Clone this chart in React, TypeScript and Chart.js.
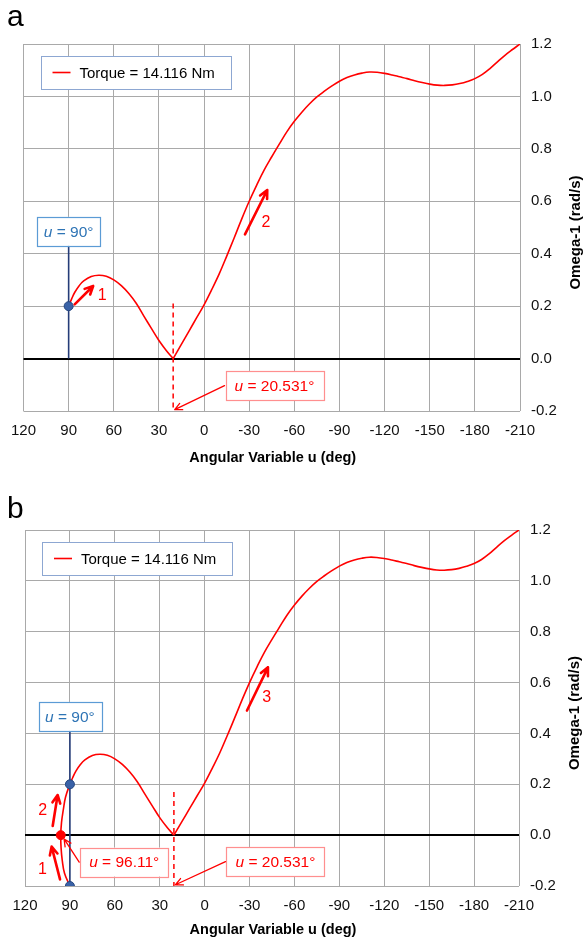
import React, { useEffect, useRef } from "react";
import { Chart, registerables } from "chart.js";

Chart.register(...registerables);

const FONT = '"Liberation Sans", Arial, sans-serif';
const W = 586;
const H = 472;
const GRID = "#A9A9A9";
const RED = "#FF0000";

// ---- axes ----
const uTicks = [120, 90, 60, 30, 0, -30, -60, -90, -120, -150, -180, -210];
const omegaTicks = [-0.2, 0, 0.2, 0.4, 0.6, 0.8, 1.0, 1.2];

// ---- curve: hump from u = 90 down to the cusp ----
const uHump = [90, 88, 86, 83, 80, 75, 70, 65, 60, 55, 50, 45, 40, 35, 30, 25, 20.531];
const omegaHump = [0.2, 0.228, 0.252, 0.278, 0.296, 0.313, 0.318, 0.314, 0.3, 0.278, 0.248, 0.21, 0.162, 0.115, 0.069, 0.03, 0];

// ---- curve: rising branch after the cusp ----
const uRise = [20.531, 15, 10, 5, 0, -5, -10, -15, -20, -25, -30, -35, -40, -45, -50, -55, -60, -65, -70, -75, -80, -85, -90, -95, -100, -105, -110, -115, -120, -125, -130, -135, -140, -145, -150, -155, -160, -165, -170, -175, -180, -185, -190, -195, -200, -205, -210];
const omegaRise = [0, 0.055, 0.105, 0.155, 0.205, 0.262, 0.322, 0.39, 0.46, 0.532, 0.6, 0.662, 0.72, 0.77, 0.818, 0.865, 0.905, 0.94, 0.971, 0.998, 1.02, 1.04, 1.058, 1.072, 1.082, 1.089, 1.093, 1.092, 1.088, 1.082, 1.075, 1.068, 1.06, 1.053, 1.047, 1.043, 1.042, 1.044, 1.049, 1.057, 1.068, 1.084, 1.106, 1.132, 1.157, 1.179, 1.2];

// ---- curve: loop below u = 90 (panel b only) ----
const uLoop = [90, 93.6, 95.1, 95.9, 96.11, 95.6, 94.4, 92.9];
const omegaLoop = [-0.2, -0.15, -0.1, -0.05, 0, 0.05, 0.1, 0.15];

const startU = 90;
const cuspU = 20.531;
const turnU = 96.11;
const legendLabel = "Torque = 14.116 Nm";
const xTitle = "Angular Variable u (deg)";
const yTitle = "Omega-1 (rad/s)";

const pts = (us: number[], ws: number[]) => us.map((u, i) => ({ x: u, y: ws[i] }));

type Arrow = { from: [number, number]; to: [number, number]; label: string; at: [number, number] };
type Box = { text: string; u: number; w: number; tip?: [number, number] };

type PanelCfg = {
  letter: string;
  letterBaseline: number;
  padLeft: number;
  padTop: number;
  yAxisW: number;
  xAxisH: number;
  withLoop: boolean;
  blueLine: [number, number];
  dashTop: number;
  arrows: Arrow[];
  boxes: Box[];
};

const panelA: PanelCfg = {
  letter: "a",
  letterBaseline: 26,
  padLeft: 21,
  padTop: 44,
  yAxisW: 66,
  xAxisH: 61,
  withLoop: false,
  blueLine: [0, 0.43],
  dashTop: 0.21,
  arrows: [
    { from: [86.0, 0.207], to: [73.7, 0.277], label: "1", at: [67.7, 0.239] },
    { from: [-27.2, 0.474], to: [-42, 0.643], label: "2", at: [-41.1, 0.518] },
  ],
  boxes: [{ text: "20.531°", u: -46.8, w: -0.103, tip: [19.5, -0.195] }],
};

const panelB: PanelCfg = {
  letter: "b",
  letterBaseline: 46,
  padLeft: 25,
  padTop: 58,
  yAxisW: 67,
  xAxisH: 58,
  withLoop: true,
  blueLine: [-0.2, 0.41],
  dashTop: 0.17,
  arrows: [
    { from: [96.6, -0.174], to: [102.2, -0.045], label: "1", at: [108.4, -0.134] },
    { from: [101.5, 0.036], to: [98.2, 0.158], label: "2", at: [108.2, 0.096] },
    { from: [-28.3, 0.49], to: [-42.3, 0.66], label: "3", at: [-41.5, 0.54] },
  ],
  boxes: [
    { text: "96.11°", u: 53.7, w: -0.106, tip: [93.9, -0.015] },
    { text: "20.531°", u: -47.3, w: -0.104, tip: [19.5, -0.195] },
  ],
};

function drawArrow(ctx: CanvasRenderingContext2D, x1: number, y1: number, x2: number, y2: number, lw: number, head: number) {
  const a = Math.atan2(y2 - y1, x2 - x1);
  ctx.save();
  ctx.strokeStyle = RED;
  ctx.lineWidth = lw;
  ctx.lineCap = "round";
  ctx.lineJoin = "round";
  ctx.beginPath();
  ctx.moveTo(x1, y1);
  ctx.lineTo(x2, y2);
  ctx.moveTo(x2 - head * Math.cos(a - 0.45), y2 - head * Math.sin(a - 0.45));
  ctx.lineTo(x2, y2);
  ctx.lineTo(x2 - head * Math.cos(a + 0.45), y2 - head * Math.sin(a + 0.45));
  ctx.stroke();
  ctx.restore();
}

function drawULabel(ctx: CanvasRenderingContext2D, cx: number, cy: number, rest: string, color: string, border: string) {
  const size = 15.5;
  ctx.save();
  ctx.font = `italic ${size}px ${FONT}`;
  const wu = ctx.measureText("u").width;
  ctx.font = `${size}px ${FONT}`;
  const tail = " = " + rest;
  const wr = ctx.measureText(tail).width;
  const tw = wu + wr;
  const bw = tw + (rest.length > 4 ? 18 : 13);
  const bh = 29;
  ctx.fillStyle = "#FFFFFF";
  ctx.fillRect(cx - bw / 2, cy - bh / 2, bw, bh);
  ctx.strokeStyle = border;
  ctx.lineWidth = 1.2;
  ctx.strokeRect(Math.round(cx - bw / 2) + 0.5, Math.round(cy - bh / 2) + 0.5, Math.round(bw), bh);
  ctx.fillStyle = color;
  ctx.textBaseline = "middle";
  ctx.textAlign = "left";
  const x0 = cx - tw / 2;
  ctx.font = `italic ${size}px ${FONT}`;
  ctx.fillText("u", x0, cy + 1);
  ctx.font = `${size}px ${FONT}`;
  ctx.fillText(tail, x0 + wu, cy + 1);
  ctx.restore();
  return { left: cx - bw / 2, right: cx + bw / 2, top: cy - bh / 2, bottom: cy + bh / 2 };
}

function makePlugin(cfg: PanelCfg) {
  return {
    id: "annot_" + cfg.letter,
    afterDraw(chart: any) {
      const ctx: CanvasRenderingContext2D = chart.ctx;
      const ca = chart.chartArea;
      const X = (u: number) => chart.scales.x.getPixelForValue(u);
      const Y = (w: number) => chart.scales.y.getPixelForValue(w);
      ctx.save();

      // panel letter
      ctx.fillStyle = "#000";
      ctx.font = `30px ${FONT}`;
      ctx.textBaseline = "alphabetic";
      ctx.textAlign = "left";
      ctx.fillText(cfg.letter, 7, cfg.letterBaseline);

      // legend
      const lx = ca.left + 17;
      const ly = ca.top + 12;
      ctx.fillStyle = "#FFF";
      ctx.fillRect(lx, ly, 190, 33);
      ctx.strokeStyle = "#8DA7D2";
      ctx.lineWidth = 1;
      ctx.strokeRect(Math.round(lx) + 0.5, Math.round(ly) + 0.5, 190, 33);
      ctx.strokeStyle = RED;
      ctx.lineWidth = 1.6;
      ctx.beginPath();
      ctx.moveTo(lx + 12, ly + 16.5);
      ctx.lineTo(lx + 30, ly + 16.5);
      ctx.stroke();
      ctx.fillStyle = "#000";
      ctx.font = `15px ${FONT}`;
      ctx.textBaseline = "middle";
      ctx.fillText(legendLabel, lx + 39, ly + 17.5);

      // dashed line at cusp
      ctx.strokeStyle = RED;
      ctx.lineWidth = 1.5;
      ctx.setLineDash([5, 4]);
      ctx.beginPath();
      ctx.moveTo(X(cuspU), Y(cfg.dashTop));
      ctx.lineTo(X(cuspU), Y(-0.2));
      ctx.stroke();
      ctx.setLineDash([]);

      // blue label u = 90
      drawULabel(ctx, X(startU), Y(cfg.blueLine[1]) - 14.5, "90°", "#2E74B5", "#5B9BD5");

      // red labels
      for (const b of cfg.boxes) {
        const r = drawULabel(ctx, X(b.u), Y(b.w), b.text, RED, "#FF8F8F");
        if (b.tip) drawArrow(ctx, r.left - 1, (r.top + r.bottom) / 2, X(b.tip[0]), Y(b.tip[1]), 1.3, 8);
      }

      // direction arrows
      for (const a of cfg.arrows) {
        drawArrow(ctx, X(a.from[0]), Y(a.from[1]), X(a.to[0]), Y(a.to[1]), 2.6, 9);
        ctx.fillStyle = RED;
        ctx.font = `16px ${FONT}`;
        ctx.textAlign = "center";
        ctx.textBaseline = "middle";
        ctx.fillText(a.label, X(a.at[0]), Y(a.at[1]));
      }

      // axis titles
      ctx.fillStyle = "#000";
      ctx.font = `bold 14.5px ${FONT}`;
      ctx.textAlign = "center";
      ctx.textBaseline = "middle";
      ctx.fillText(xTitle, (ca.left + ca.right) / 2 + 1, 458);
      ctx.save();
      ctx.translate(ca.right + 56, (ca.top + ca.bottom) / 2 + 5);
      ctx.rotate(-Math.PI / 2);
      ctx.font = `bold 15px ${FONT}`;
      ctx.fillText(yTitle, 0, 0);
      ctx.restore();

      ctx.restore();
    },
  };
}

function buildConfig(cfg: PanelCfg): any {
  const hump = pts(uHump, omegaHump);
  const rise = pts(uRise, omegaRise);
  const loop = pts(uLoop, omegaLoop);
  const firstBranch = cfg.withLoop ? loop.concat(hump) : hump;
  const blueDots = cfg.withLoop ? [hump[0], loop[0]] : [hump[0]];
  const curveStyle = {
    type: "line",
    borderColor: RED,
    borderWidth: 1.6,
    pointRadius: 0,
    tension: 0.4,
    fill: false,
    order: 2,
  };
  const datasets: any[] = [
    { ...curveStyle, data: firstBranch },
    { ...curveStyle, data: rise },
    {
      type: "line",
      data: [
        { x: startU, y: cfg.blueLine[0] },
        { x: startU, y: cfg.blueLine[1] },
      ],
      borderColor: "#253C78",
      borderWidth: 1.6,
      pointRadius: 0,
      order: 3,
    },
    {
      type: "scatter",
      data: blueDots,
      pointRadius: 4.5,
      backgroundColor: "#3A62A7",
      borderColor: "#26477F",
      borderWidth: 1,
      order: 0,
    },
  ];
  if (cfg.withLoop) {
    datasets.push({
      type: "scatter",
      data: [{ x: turnU, y: 0 }],
      pointRadius: 4.5,
      backgroundColor: RED,
      borderColor: RED,
      order: 0,
    });
  }
  return {
    type: "line",
    data: { datasets },
    options: {
      responsive: false,
      animation: false,
      events: [],
      layout: { padding: { left: cfg.padLeft, top: cfg.padTop, right: 0, bottom: 0 } },
      plugins: { legend: { display: false }, tooltip: { enabled: false }, title: { display: false } },
      scales: {
        x: {
          type: "linear",
          min: -210,
          max: 120,
          reverse: true,
          afterBuildTicks: (s: any) => {
            s.ticks = uTicks.map((v) => ({ value: v }));
          },
          afterFit: (s: any) => {
            s.height = cfg.xAxisH;
          },
          grid: { color: GRID, lineWidth: 1, drawTicks: false },
          border: { display: false },
          ticks: {
            font: { family: FONT, size: 15 },
            color: "#111",
            padding: 11,
            maxRotation: 0,
            autoSkip: false,
            callback: (v: any) => String(v),
          },
        },
        y: {
          type: "linear",
          position: "right",
          min: -0.2,
          max: 1.2,
          afterBuildTicks: (s: any) => {
            s.ticks = omegaTicks.map((v) => ({ value: v }));
          },
          afterFit: (s: any) => {
            s.width = cfg.yAxisW;
          },
          grid: {
            color: (c: any) => (c.tick && Math.abs(c.tick.value) < 1e-9 ? "#000" : GRID),
            lineWidth: (c: any) => (c.tick && Math.abs(c.tick.value) < 1e-9 ? 2 : 1),
            drawTicks: false,
          },
          border: { display: false },
          ticks: {
            font: { family: FONT, size: 15 },
            color: "#111",
            padding: 11,
            autoSkip: false,
            callback: (v: any) => Number(v).toFixed(1),
          },
        },
      },
    },
    plugins: [makePlugin(cfg)],
  };
}

function Panel({ cfg }: { cfg: PanelCfg }) {
  const ref = useRef<HTMLCanvasElement>(null);
  useEffect(() => {
    const chart = new Chart(ref.current as HTMLCanvasElement, buildConfig(cfg));
    return () => chart.destroy();
  }, [cfg]);
  return <canvas ref={ref} width={W} height={H} style={{ display: "block", width: W, height: H }} />;
}

export default function App() {
  return (
    <div style={{ position: "absolute", left: 0, top: 0, width: W, height: 2 * H, background: "#FFF" }}>
      <Panel cfg={panelA} />
      <Panel cfg={panelB} />
    </div>
  );
}
